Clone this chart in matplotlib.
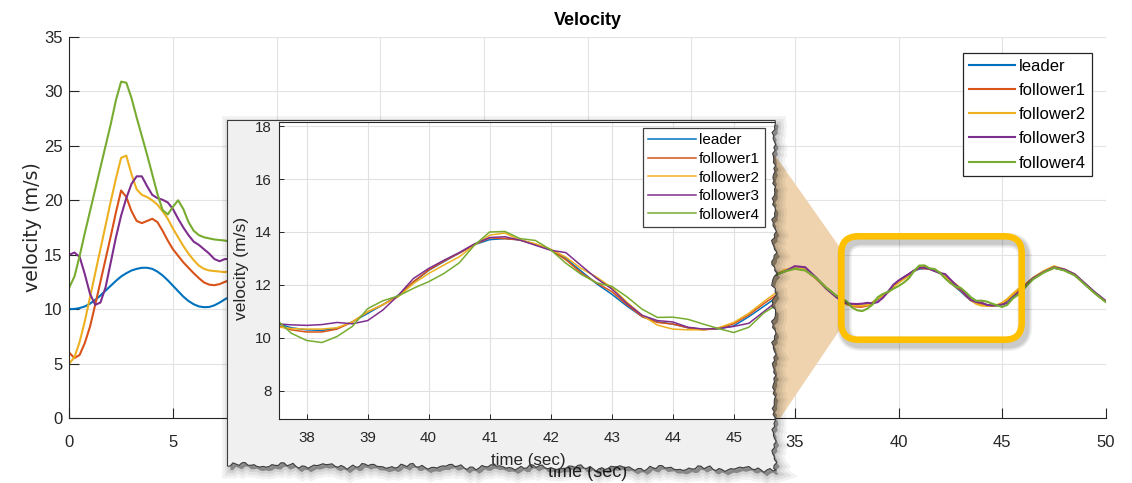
import numpy as np
import matplotlib.pyplot as plt
from matplotlib.patches import Polygon, FancyBboxPatch
from matplotlib.transforms import Affine2D

# ---- data ----
t_rise = np.arange(0, 7.51, 0.25)       # 0 .. 7.5
t_mid = np.arange(8, 34.5, 1.0)         # 8 .. 34 (hidden behind the zoom panel)
t_peak = np.arange(34.5, 37.01, 0.5)    # 34.5 .. 37
t_zoom = np.arange(37.25, 46.51, 0.25)  # 37.25 .. 46.5
t_tail = np.arange(47, 50.01, 0.5)      # 47 .. 50
time = np.concatenate([t_rise, t_mid, t_peak, t_zoom, t_tail])

leader = [
    10.0, 10.02, 10.1, 10.25, 10.5, 10.85, 11.25, 11.7, 12.15, 12.6, 13.0, 13.3, 13.55, 13.7, 13.8, 13.8,
    13.7, 13.45, 13.1, 12.65, 12.15, 11.65, 11.15, 10.75, 10.45, 10.25, 10.18, 10.2, 10.35, 10.6, 10.9,
    11.4, 13.1, 13.8, 12.8, 11.1, 10.2, 11.0, 12.7, 13.8, 13.2, 11.5, 10.3, 10.7, 12.3, 13.7, 13.5,
    11.9, 10.4, 10.4, 11.8, 13.4, 13.7, 12.4, 10.7, 10.25, 11.4, 13.1,
    13.55, 13.8, 13.65, 12.9, 12.0, 11.2,
    10.85, 10.55, 10.38, 10.3, 10.28, 10.36, 10.6, 10.92, 11.25, 11.6, 12.1, 12.55, 12.88, 13.2, 13.52,
    13.71, 13.75, 13.7, 13.52, 13.33, 13.0, 12.52, 12.05, 11.65, 11.2, 10.8, 10.6, 10.52, 10.38, 10.32,
    10.34, 10.45, 10.8, 11.2, 11.6, 11.95, 12.4, 12.8,
    13.45, 13.8, 13.6, 13.15, 12.3, 11.45, 10.7]
follower1 = [
    6.0, 5.5, 5.8, 6.9, 8.4, 10.4, 12.5, 14.6, 16.7, 18.9, 20.9, 20.3, 19.0, 18.1, 17.9, 18.1,
    18.3, 18.0, 17.2, 16.3, 15.5, 14.9, 14.3, 13.8, 13.3, 12.85, 12.45, 12.25, 12.2, 12.3, 12.5,
    12.9, 13.6, 14.1, 13.3, 11.5, 10.4, 10.9, 12.6, 13.7, 13.2, 11.5, 10.3, 10.6, 12.3, 13.6, 13.5,
    11.9, 10.4, 10.4, 11.8, 13.4, 13.7, 12.4, 10.7, 10.25, 11.4, 13.1,
    13.5, 13.75, 13.6, 12.85, 11.95, 11.15,
    10.8, 10.48, 10.3, 10.22, 10.22, 10.33, 10.6, 10.98, 11.25, 11.58, 12.12, 12.56, 12.9, 13.2, 13.52,
    13.78, 13.75, 13.7, 13.55, 13.33, 12.95, 12.45, 12.08, 11.75, 11.25, 10.8, 10.58, 10.52, 10.38, 10.3,
    10.35, 10.53, 10.87, 11.3, 11.7, 12.0, 12.45, 12.85,
    13.4, 13.8, 13.6, 13.15, 12.3, 11.45, 10.7]
follower2 = [
    5.0, 5.6, 7.0, 8.9, 11.1, 13.3, 15.5, 17.7, 19.9, 22.0, 23.9, 24.1, 22.4, 21.0, 20.5, 20.3,
    20.0, 19.6, 19.0, 18.3, 17.4, 16.6, 15.8, 15.1, 14.5, 14.0, 13.7, 13.55, 13.5, 13.45, 13.4,
    13.6, 14.2, 14.5, 13.6, 11.8, 10.5, 10.9, 12.6, 13.8, 13.2, 11.5, 10.3, 10.6, 12.3, 13.7, 13.5,
    11.9, 10.4, 10.4, 11.8, 13.4, 13.7, 12.4, 10.7, 10.25, 11.4, 13.1,
    13.6, 13.8, 13.65, 12.9, 12.0, 11.2,
    10.75, 10.42, 10.35, 10.33, 10.33, 10.38, 10.6, 10.98, 11.25, 11.55, 12.05, 12.43, 12.75, 13.06, 13.5,
    13.88, 13.96, 13.69, 13.55, 13.35, 13.05, 12.62, 12.3, 11.9, 11.35, 10.85, 10.48, 10.33, 10.3, 10.3,
    10.38, 10.58, 10.93, 11.38, 11.8, 12.1, 12.5, 12.9,
    13.5, 13.95, 13.65, 13.2, 12.3, 11.45, 10.7]
follower3 = [
    15.0, 15.2, 14.8, 13.2, 11.4, 10.4, 10.6, 12.0, 14.3, 16.6, 18.6, 20.2, 21.5, 22.2, 22.2, 21.3,
    20.5, 20.2, 20.05, 19.8, 19.2, 18.3, 17.5, 16.8, 16.2, 15.9, 15.5, 15.1, 14.6, 14.4, 14.6,
    14.6, 14.8, 14.9, 13.9, 12.0, 10.6, 10.9, 12.6, 13.8, 13.2, 11.5, 10.3, 10.7, 12.3, 13.7, 13.5,
    11.9, 10.4, 10.4, 11.8, 13.4, 13.7, 12.4, 10.7, 10.25, 11.4, 13.1,
    13.45, 13.95, 13.85, 12.95, 11.9, 11.1,
    10.8, 10.53, 10.49, 10.47, 10.5, 10.58, 10.53, 10.65, 11.05, 11.6, 12.24, 12.62, 12.93, 13.22, 13.55,
    13.79, 13.82, 13.69, 13.5, 13.31, 13.22, 12.73, 12.25, 11.85, 11.3, 10.85, 10.65, 10.6, 10.4, 10.33,
    10.35, 10.43, 10.55, 11.0, 11.45, 11.85, 12.4, 12.85,
    13.4, 13.85, 13.65, 13.2, 12.35, 11.5, 10.75]
follower4 = [
    12.0, 13.0, 14.9, 17.0, 19.0, 21.0, 23.0, 25.0, 27.0, 29.2, 30.9, 30.8, 29.4, 27.6, 25.9, 24.2,
    22.4, 20.6, 19.1, 18.7, 19.4, 20.0, 19.2, 18.0, 17.2, 16.8, 16.6, 16.5, 16.4, 16.35, 16.3,
    16.1, 15.8, 15.5, 14.3, 12.3, 10.8, 11.0, 12.6, 13.8, 13.2, 11.5, 10.3, 10.6, 12.3, 13.7, 13.5,
    11.9, 10.4, 10.4, 11.8, 13.4, 13.7, 12.4, 10.7, 10.25, 11.4, 13.1,
    13.45, 13.7, 13.55, 12.9, 12.0, 11.25,
    11.0, 10.7, 10.17, 9.9, 9.82, 10.05, 10.43, 11.1, 11.4, 11.58, 11.87, 12.12, 12.43, 12.83, 13.5,
    14.0, 14.02, 13.75, 13.68, 13.33, 12.82, 12.4, 12.08, 11.95, 11.55, 11.08, 10.77, 10.78, 10.7, 10.52,
    10.35, 10.2, 10.4, 10.95, 11.3, 11.75, 12.3, 12.75,
    13.35, 13.8, 13.55, 13.1, 12.25, 11.4, 10.65]

labels = ['leader', 'follower1', 'follower2', 'follower3', 'follower4']
colors = ['#0072BD', '#D95319', '#EDB120', '#7E2F8E', '#77AC30']
series = [leader, follower1, follower2, follower3, follower4]
main_xticks = list(range(0, 51, 5))
# 10..30 sit under the zoom panel in the reference
main_xticklabels = ['0', '5', '', '', '', '', '', '35', '40', '45', '50']

W, H = 1132, 483
plt.rcParams['font.family'] = ['Liberation Sans', 'DejaVu Sans']
plt.rcParams['axes.edgecolor'] = '#262626'

fig = plt.figure(figsize=(W / 100, H / 100), dpi=100)
# pixel coords, y pointing down
pix = Affine2D().scale(1 / W, -1 / H).translate(0, 1) + fig.transFigure


def rect(l, t, r, b):
    return [l / W, 1 - b / H, (r - l) / W, (b - t) / H]


# ---- main axes ----
ax = fig.add_axes(rect(69.3, 37, 1105.8, 418))
for vals, lab, col in zip(series, labels, colors):
    ax.plot(time, vals, color=col, lw=1.5, label=lab, zorder=2)
ax.set_xlim(0, 50)
ax.set_ylim(0, 35)
ax.set_xticks(main_xticks, main_xticklabels)
ax.set_yticks(np.arange(0, 36, 5))
ax.grid(True, color='#E3E3E3', lw=0.8)
ax.set_axisbelow(True)
for s in ('top', 'right'):
    ax.spines[s].set_visible(False)
ax.tick_params(direction='in', length=7.5, width=0.8, colors='#262626', labelsize=12)
ax.tick_params(axis='x', pad=12)
ax.tick_params(axis='y', pad=5)
ax.set_title('Velocity', fontsize=13, fontweight='bold', pad=8.6)
ax.set_xlabel('time (sec)', fontsize=13, color='#262626')
ax.xaxis.set_label_coords(0.5, (418 - 464) / 381)
ax.set_ylabel('velocity (m/s)', fontsize=13.7, family='DejaVu Sans', color='#262626')
ax.yaxis.set_label_coords((42 - 69.3) / 1036.5, 0.5)

leg = ax.legend(loc='upper right', bbox_to_anchor=(1092 / W, 1 - 53 / H),
                bbox_transform=fig.transFigure, fontsize=12, fancybox=False,
                edgecolor='#262626', framealpha=1, borderaxespad=0, borderpad=0.35,
                labelspacing=0.55, handlelength=2.75, handletextpad=0.25)
leg.get_frame().set_linewidth(0.9)

# zoom wedge
ax.add_patch(Polygon([(760, 134), (841, 249), (841, 328), (760, 448)], closed=True,
                     transform=pix, facecolor='#EFD3AE', edgecolor='none', zorder=1.5))

# rounded highlight box with soft shadow
for extra, a in [(6, 0.06), (4, 0.07), (2, 0.09)]:
    fig.add_artist(FancyBboxPatch((844.3, 240.3), 180.4, 103.4, boxstyle='round,pad=0,rounding_size=17',
                                  transform=pix, fill=False, edgecolor='black', lw=4.7 + extra,
                                  alpha=a, zorder=0.9))
fig.add_artist(FancyBboxPatch((841.3, 236.3), 180.4, 103.4, boxstyle='round,pad=0,rounding_size=17',
                              transform=pix, fill=False, edgecolor='#FFC000', lw=4.7, zorder=1))

# ---- torn zoom panel ----
verts = [(227.5, 120.5)]
for k in range(117):
    y = 120.5 + 3 * k
    x = 774 + 1.5 * np.sin(0.9 * k) + 1.0 * np.sin(2.6 * k + 0.5) + 0.7 * np.sin(5.3 * k + 1.3)
    verts.append((x, y))
for k in range(184):
    x = 776 - 3 * k
    if x < 227.5:
        break
    y = (465 + 4 * (x - 227) / 550 + 1.6 * np.sin(0.45 * k) + 1.2 * np.sin(1.9 * k + 0.3)
         + 0.7 * np.sin(4.7 * k + 2.0))
    verts.append((x, y))
verts.append((227.5, verts[-1][1]))
verts = np.array(verts)

fig.add_artist(Polygon(verts + [3, 4], closed=True, transform=pix, facecolor='black',
                       edgecolor='none', alpha=0.35, zorder=4))
for lw, a in [(12, 0.05), (8, 0.06), (4, 0.08)]:
    fig.add_artist(Polygon(verts + [3, 4], closed=True, transform=pix, fill=False,
                           edgecolor='black', lw=lw, alpha=a, zorder=4))
fig.add_artist(Polygon(verts, closed=True, transform=pix, facecolor='#F0F0F0',
                       edgecolor='none', zorder=5))
fig.add_artist(Polygon(verts, closed=True, transform=pix, fill=False,
                       edgecolor='#3C3C3C', lw=0.8, zorder=7))

clip_poly = Polygon(verts, closed=True, transform=pix)

axi = fig.add_axes(rect(278.9, 121.7, 777, 419), zorder=6)
for vals, lab, col in zip(series, labels, colors):
    axi.plot(time, vals, color=col, lw=1.1, label=lab)
axi.set_xlim(37.546, 45.71)
axi.set_ylim(6.93, 18.17)
axi.set_xticks(range(38, 46))
axi.set_yticks(range(8, 19, 2))
axi.grid(True, color='#E0E0E0', lw=0.8)
axi.set_axisbelow(True)
axi.spines['right'].set_visible(False)
axi.tick_params(direction='in', length=3.6, width=0.7, colors='#262626', labelsize=10.9)
axi.tick_params(axis='x', pad=9)
axi.tick_params(axis='y', pad=5)
axi.set_xlabel('time (sec)', fontsize=12.2, color='#262626')
axi.xaxis.set_label_coords((528 - 278.9) / 498.1, (419 - 453) / 297.3)
axi.set_ylabel('velocity (m/s)', fontsize=12.6, color='#262626')
axi.yaxis.set_label_coords((248.6 - 278.9) / 498.1, (419 - 268) / 297.3)

legi = axi.legend(loc='upper right', bbox_to_anchor=(765 / W, 1 - 128 / H),
                  bbox_transform=fig.transFigure, fontsize=11,
                  fancybox=False, edgecolor='#404040', framealpha=1, borderaxespad=0,
                  borderpad=0.35, labelspacing=0.3, handlelength=3.1, handletextpad=0.2)
legi.get_frame().set_linewidth(0.9)

axi.patch.set_clip_path(clip_poly)
for ln in axi.lines:
    ln.set_clip_path(clip_poly)
axi.xaxis.set_clip_path(clip_poly)
axi.yaxis.set_clip_path(clip_poly)
for sp in axi.spines.values():
    sp.set_clip_on(True)
    sp.set_clip_path(clip_poly)

fig.savefig('out.png', dpi=100)
